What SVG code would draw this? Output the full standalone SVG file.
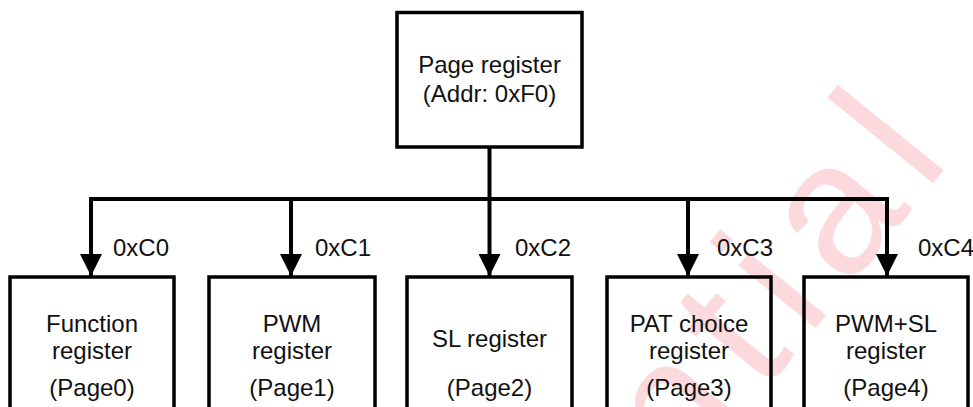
<svg xmlns="http://www.w3.org/2000/svg" width="973" height="407" viewBox="0 0 973 407">
<style>
  .box { fill: none; stroke: #000; stroke-width: 3.5; }
  .wire { fill: none; stroke: #000; stroke-width: 4; }
  .t { font-family: "Liberation Sans", Arial, sans-serif; font-size: 24px; fill: #111; }
  .c { text-anchor: middle; }
  .wm { font-family: "Liberation Sans", Arial, sans-serif; font-size: 188px; letter-spacing: 20px; fill: #fcd9dd; text-anchor: end; }
</style>
<defs>
  <marker id="arrow" markerWidth="22" markerHeight="22" viewBox="0 0 22 22" refX="22" refY="11" orient="auto" markerUnits="userSpaceOnUse">
    <path d="M0,0 L22,11 L0,22 Z" fill="#000"/>
  </marker>
</defs>
<rect width="973" height="407" fill="#fff"/>
<text class="wm" transform="translate(964,145) rotate(-51)">Confidential</text>

<g id="page-register">
  <rect class="box" x="397" y="12.5" width="185" height="134.5"/>
  <text class="t c" x="489.5" y="73">Page register</text>
  <text class="t c" x="489.5" y="102">(Addr: 0xF0)</text>
</g>

<g id="page0">
  <rect class="box" x="10" y="277" width="164" height="150"/>
  <text class="t c" x="92" y="332">Function</text>
  <text class="t c" x="92" y="359">register</text>
  <text class="t c" x="92" y="396">(Page0)</text>
</g>
<g id="page1">
  <rect class="box" x="209" y="277" width="166" height="150"/>
  <text class="t c" x="292" y="332">PWM</text>
  <text class="t c" x="292" y="359">register</text>
  <text class="t c" x="292" y="396">(Page1)</text>
</g>
<g id="page2">
  <rect class="box" x="407" y="277" width="165" height="150"/>
  <text class="t c" x="489.5" y="347">SL register</text>
  <text class="t c" x="489.5" y="396">(Page2)</text>
</g>
<g id="page3">
  <rect class="box" x="607" y="277" width="164" height="150"/>
  <text class="t c" x="689" y="332">PAT choice</text>
  <text class="t c" x="689" y="359">register</text>
  <text class="t c" x="689" y="396">(Page3)</text>
</g>
<g id="page4">
  <rect class="box" x="804" y="277" width="164" height="150"/>
  <text class="t c" x="886" y="332">PWM+SL</text>
  <text class="t c" x="886" y="359">register</text>
  <text class="t c" x="886" y="396">(Page4)</text>
</g>

<g id="connectors">
  <path class="wire" d="M489.5,147 V199"/>
  <path class="wire" d="M91,199 H887"/>
  <path class="wire" d="M91,197 V276" marker-end="url(#arrow)"/>
  <path class="wire" d="M291,197 V276" marker-end="url(#arrow)"/>
  <path class="wire" d="M489.5,197 V276" marker-end="url(#arrow)"/>
  <path class="wire" d="M688,197 V276" marker-end="url(#arrow)"/>
  <path class="wire" d="M887,197 V276" marker-end="url(#arrow)"/>
  <text class="t" x="113" y="256">0xC0</text>
  <text class="t" x="315" y="256">0xC1</text>
  <text class="t" x="515" y="256">0xC2</text>
  <text class="t" x="717" y="256">0xC3</text>
  <text class="t" x="918" y="256">0xC4</text>
</g>
</svg>
